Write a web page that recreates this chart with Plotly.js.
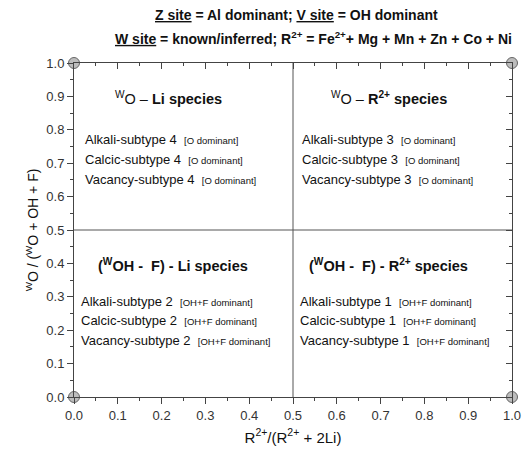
<!DOCTYPE html>
<html><head><meta charset="utf-8">
<script src="https://cdn.plot.ly/plotly-3.0.1.min.js"></script>
<style>html,body{margin:0;padding:0;background:#fff}#chart{width:524px;height:453px}</style>
</head><body><div id="chart"></div>
<script>
// corner markers
const cornerX = [0, 0, 1, 1];
const cornerY = [0, 1, 0, 1];
// dividing lines
const divider = 0.5;
// quadrant headings
const headings = [
  "<sup>W</sup>O – <b>Li species</b>",
  "<sup>W</sup>O – <b>R<sup>2+</sup> species</b>",
  "<b>(<sup>W</sup>OH -  F) - Li species</b>",
  "<b>(<sup>W</sup>OH -  F) - R<sup>2+</sup> species</b>"
];
const subtypeNames = ["Alkali-subtype", "Calcic-subtype", "Vacancy-subtype"];
const subtypeNumbers = [4, 3, 2, 1];
const dominance = ["[O dominant]", "[O dominant]", "[OH+F dominant]", "[OH+F dominant]"];
const titleLines = [
  "<b><u>Z site</u> = Al dominant; <u>V site</u> = OH dominant</b>",
  "<b><u>W site</u> = known/inferred; R<sup>2+</sup> = Fe<sup>2+</sup>+ Mg + Mn + Zn + Co + Ni</b>"
];
const xTitle = "R<sup>2+</sup>/(R<sup>2+</sup> + 2Li)";
const yTitle = "<sup>W</sup>O / (<sup>W</sup>O + OH + F)";

const FONT = "Liberation Sans, Arial, sans-serif";

// positions (layout)
const headPos = [[0.215, 0.895], [0.72, 0.895], [0.226, 0.395], [0.717, 0.395]];
const listPos = [[0.02, [0.77, 0.71, 0.65]], [0.516, [0.77, 0.71, 0.65]],
                 [0.011, [0.287, 0.228, 0.168]], [0.511, [0.287, 0.228, 0.168]]];

const annotations = [];
headings.forEach((h, i) => {
  annotations.push({x: headPos[i][0], y: headPos[i][1], xref: 'x', yref: 'y', text: h,
    showarrow: false, xanchor: 'center', yanchor: 'middle', font: {family: FONT, size: 14.5, color: '#111'}});
});
subtypeNumbers.forEach((n, i) => {
  subtypeNames.forEach((name, j) => {
    annotations.push({x: listPos[i][0], y: listPos[i][1][j], xref: 'x', yref: 'y',
      text: name + " " + n + "  <span style='font-size:9.5px'>" + dominance[i] + "</span>",
      showarrow: false, xanchor: 'left', yanchor: 'middle', font: {family: FONT, size: 13, color: '#111'}});
  });
});
annotations.push({x: 0.509, y: 1.144, xref: 'paper', yref: 'paper', text: titleLines[0], showarrow: false,
  xanchor: 'center', yanchor: 'middle', font: {family: FONT, size: 14, color: '#111'}});
annotations.push({x: 0.546, y: 1.075, xref: 'paper', yref: 'paper', text: titleLines[1], showarrow: false,
  xanchor: 'center', yanchor: 'middle', font: {family: FONT, size: 14, color: '#111'}});

const traces = [
  {x: [divider, divider], y: [0, 1], mode: 'lines', line: {color: '#555', width: 1}, hoverinfo: 'skip', showlegend: false},
  {x: [0, 1], y: [divider, divider], mode: 'lines', line: {color: '#555', width: 1}, hoverinfo: 'skip', showlegend: false},
  {x: cornerX, y: cornerY, mode: 'markers', cliponaxis: false,
   marker: {size: 11, color: '#bdbdbd', line: {color: '#666', width: 1}}, showlegend: false},
  {x: [0.5], y: [0.5], xaxis: 'x2', yaxis: 'y2', mode: 'markers', marker: {opacity: 0}, hoverinfo: 'skip', showlegend: false}
];

const axBase = {range: [0, 1], dtick: 0.1, tick0: 0, showgrid: false, zeroline: false,
  showline: true, linecolor: '#444', linewidth: 1, tickcolor: '#444', ticklen: 6, tickwidth: 1,
  minor: {dtick: 0.05, ticklen: 3, tickcolor: '#444', showgrid: false}, fixedrange: true};

const layout = {
  width: 524, height: 453,
  margin: {l: 74, r: 12, t: 63, b: 56},
  paper_bgcolor: '#fff', plot_bgcolor: '#fff',
  showlegend: false,
  font: {family: FONT, color: '#222'},
  xaxis: Object.assign({}, axBase, {ticks: 'outside', minor: Object.assign({}, axBase.minor, {ticks: 'outside'}),
    tickformat: '.1f', tickfont: {family: FONT, size: 13, color: '#333'},
    title: {text: xTitle, font: {family: FONT, size: 15, color: '#111'}, standoff: 10}}),
  yaxis: Object.assign({}, axBase, {ticks: 'outside', minor: Object.assign({}, axBase.minor, {ticks: 'outside'}),
    tickformat: '.1f', tickfont: {family: FONT, size: 13, color: '#333'},
    title: {text: yTitle, font: {family: FONT, size: 14, color: '#111'}, standoff: 4}}),
  xaxis2: Object.assign({}, axBase, {overlaying: 'x', side: 'top', anchor: 'y2', ticks: 'inside', showticklabels: false,
    minor: Object.assign({}, axBase.minor, {ticks: 'inside'})}),
  yaxis2: Object.assign({}, axBase, {overlaying: 'y', side: 'right', anchor: 'x2', ticks: 'inside', showticklabels: false,
    minor: Object.assign({}, axBase.minor, {ticks: 'inside'})}),
  annotations: annotations
};

Plotly.newPlot('chart', traces, layout, {displayModeBar: false, staticPlot: true});
</script></body></html>
